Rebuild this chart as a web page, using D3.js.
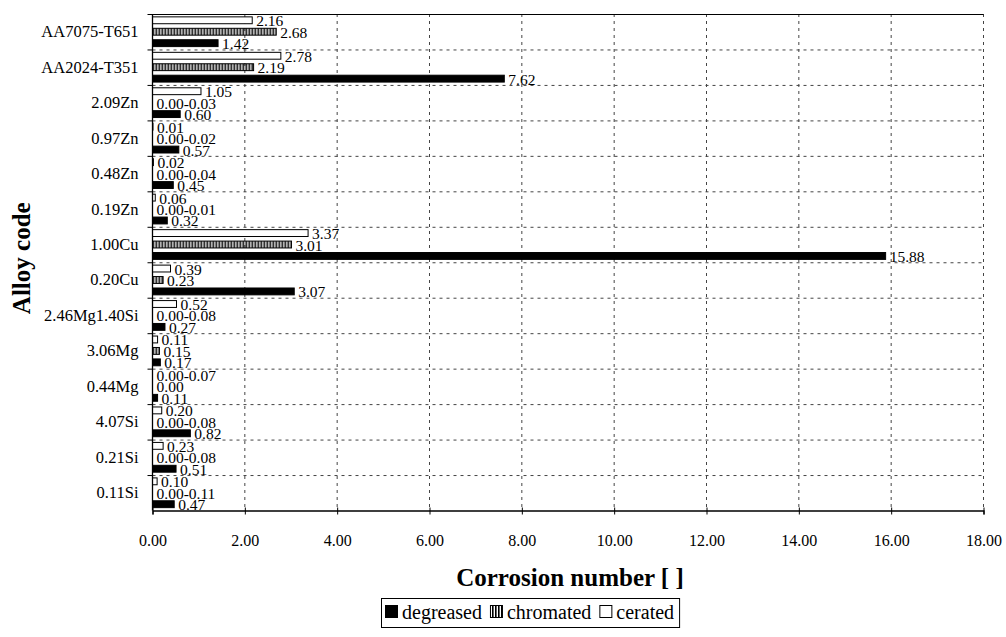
<!DOCTYPE html>
<html>
<head>
<meta charset="utf-8">
<script src="https://cdn.jsdelivr.net/npm/d3@7"></script>
<style>
  body { margin: 0; background: #fff; }
  svg text { font-family: 'Liberation Serif', 'Times New Roman', Times, serif; fill: #000; }
</style>
</head>
<body>
<script>
const categories = ['AA7075-T651', 'AA2024-T351', '2.09Zn', '0.97Zn', '0.48Zn', '0.19Zn', '1.00Cu',
  '0.20Cu', '2.46Mg1.40Si', '3.06Mg', '0.44Mg', '4.07Si', '0.21Si', '0.11Si'];

const degreased = [1.42, 7.62, 0.60, 0.57, 0.45, 0.32, 15.88, 3.07, 0.27, 0.17, 0.11, 0.82, 0.51, 0.47];
const chromated = [2.68, 2.19, 0, 0, 0, 0, 3.01, 0.23, 0, 0.15, 0, 0, 0, 0];
const cerated = [2.16, 2.78, 1.05, 0.01, 0.02, 0.06, 3.37, 0.39, 0.52, 0.11, 0, 0.20, 0.23, 0.10];

const degreasedLabels = ['1.42', '7.62', '0.60', '0.57', '0.45', '0.32', '15.88', '3.07', '0.27', '0.17', '0.11', '0.82', '0.51', '0.47'];
const chromatedLabels = ['2.68', '2.19', '0.00-0.03', '0.00-0.02', '0.00-0.04', '0.00-0.01', '3.01', '0.23', '0.00-0.08', '0.15', '0.00', '0.00-0.08', '0.00-0.08', '0.00-0.11'];
const ceratedLabels = ['2.16', '2.78', '1.05', '0.01', '0.02', '0.06', '3.37', '0.39', '0.52', '0.11', '0.00-0.07', '0.20', '0.23', '0.10'];

const xTicks = [0, 2, 4, 6, 8, 10, 12, 14, 16, 18];

const width = 1006;
const height = 637;
const margin = { top: 14, right: 22.5, bottom: 126.5, left: 152.5 };
const innerW = width - margin.left - margin.right;
const innerH = height - margin.top - margin.bottom;

const svg = d3.select('body')
  .append('svg')
  .attr('width', width)
  .attr('height', height);

const defs = svg.append('defs');
defs.append('pattern')
  .attr('id', 'hatch')
  .attr('patternUnits', 'userSpaceOnUse')
  .attr('width', 3)
  .attr('height', 3)
  .append('rect')
  .attr('width', 1.6)
  .attr('height', 3)
  .attr('fill', '#000');

const series = [
  { key: 'cerated', values: cerated, labels: ceratedLabels, fill: '#fff' },
  { key: 'chromated', values: chromated, labels: chromatedLabels, fill: 'url(#hatch)' },
  { key: 'degreased', values: degreased, labels: degreasedLabels, fill: '#000' }
];

const x = d3.scaleLinear().domain([0, 18]).range([0, innerW]);
const y = d3.scaleBand().domain(categories).range([0, innerH]);
const y1 = d3.scaleBand()
  .domain(series.map(s => s.key))
  .range([0, y.bandwidth()])
  .paddingInner(0.4)
  .paddingOuter(0.25);

const g = svg.append('g').attr('transform', `translate(${margin.left},${margin.top})`);

// grid
g.append('g')
  .selectAll('line')
  .data(categories.slice(1))
  .enter()
  .append('line')
  .attr('x1', 0)
  .attr('x2', innerW)
  .attr('y1', d => y(d) + 0.5)
  .attr('y2', d => y(d) + 0.5)
  .attr('stroke', '#444')
  .attr('stroke-dasharray', '3,4');

g.append('g')
  .selectAll('line')
  .data(xTicks.slice(1))
  .enter()
  .append('line')
  .attr('x1', d => x(d))
  .attr('x2', d => x(d))
  .attr('y1', 0)
  .attr('y2', innerH)
  .attr('stroke', '#444')
  .attr('stroke-dasharray', '3,4');

// top border
g.append('line')
  .attr('x1', 0).attr('x2', innerW)
  .attr('y1', 0.5).attr('y2', 0.5)
  .attr('stroke', '#000');

// bars
const rows = g.append('g')
  .selectAll('g')
  .data(categories)
  .enter()
  .append('g')
  .attr('transform', d => `translate(0,${y(d)})`);

series.forEach(s => {
  rows.filter((d, i) => s.values[i] > 0)
    .append('rect')
    .attr('x', 0)
    .attr('y', y1(s.key))
    .attr('width', (d) => x(s.values[categories.indexOf(d)]))
    .attr('height', y1.bandwidth())
    .attr('fill', s.fill)
    .attr('stroke', '#000')
    .attr('stroke-width', 1);

  rows.append('text')
    .attr('x', (d) => x(s.values[categories.indexOf(d)]) + 4)
    .attr('y', y1(s.key) + y1.bandwidth() / 2 + 6)
    .style('font-size', '15.5px')
    .text((d) => s.labels[categories.indexOf(d)]);
});

// x axis
const xAxis = g.append('g')
  .attr('transform', `translate(0,${innerH})`)
  .call(d3.axisBottom(x).tickValues(xTicks).tickFormat(d => d.toFixed(2)).tickSize(4).tickPadding(20));
xAxis.select('.domain').attr('stroke', '#000').attr('stroke-width', 1.3);
xAxis.selectAll('.tick line').attr('y1', -3);
xAxis.selectAll('text').style('font-size', '16px');

// y axis
g.append('line')
  .attr('x1', 0).attr('x2', 0)
  .attr('y1', 0).attr('y2', innerH)
  .attr('stroke', '#000')
  .attr('stroke-width', 1.3);

g.append('g')
  .selectAll('line')
  .data(categories)
  .enter()
  .append('line')
  .attr('x1', -5).attr('x2', 0)
  .attr('y1', d => y(d) + 0.5)
  .attr('y2', d => y(d) + 0.5)
  .attr('stroke', '#000');

g.append('g')
  .selectAll('text')
  .data(categories)
  .enter()
  .append('text')
  .attr('x', -14)
  .attr('y', d => y(d) + y.bandwidth() / 2 + 5.5)
  .attr('text-anchor', 'end')
  .style('font-size', '16.5px')
  .text(d => d);

// titles
svg.append('text')
  .attr('transform', `translate(30,${margin.top + innerH / 2 - 4}) rotate(-90)`)
  .attr('text-anchor', 'middle')
  .style('font-size', '25px')
  .style('font-weight', 'bold')
  .text('Alloy code');

svg.append('text')
  .attr('x', margin.left + innerW / 2 + 2)
  .attr('y', 586)
  .attr('text-anchor', 'middle')
  .style('font-size', '25px')
  .style('font-weight', 'bold')
  .text('Corrosion number [ ]');

// legend
const legendItems = [
  { label: 'degreased', fill: '#000' },
  { label: 'chromated', fill: 'url(#hatch)' },
  { label: 'cerated', fill: '#fff' }
];
const legend = svg.append('g');
const box = legend.append('rect')
  .attr('fill', '#fff')
  .attr('stroke', '#000');
let lx = 385;
legendItems.forEach(item => {
  legend.append('rect')
    .attr('x', lx + 0.5)
    .attr('y', 605.5)
    .attr('width', 12)
    .attr('height', 12)
    .attr('fill', item.fill)
    .attr('stroke', '#000');
  const t = legend.append('text')
    .attr('x', lx + 17)
    .attr('y', 619)
    .style('font-size', '20px')
    .text(item.label);
  lx += 17 + t.node().getComputedTextLength() + 8;
});
box.attr('x', 381.5).attr('y', 598.5).attr('width', lx - 384).attr('height', 29);
</script>
</body>
</html>
